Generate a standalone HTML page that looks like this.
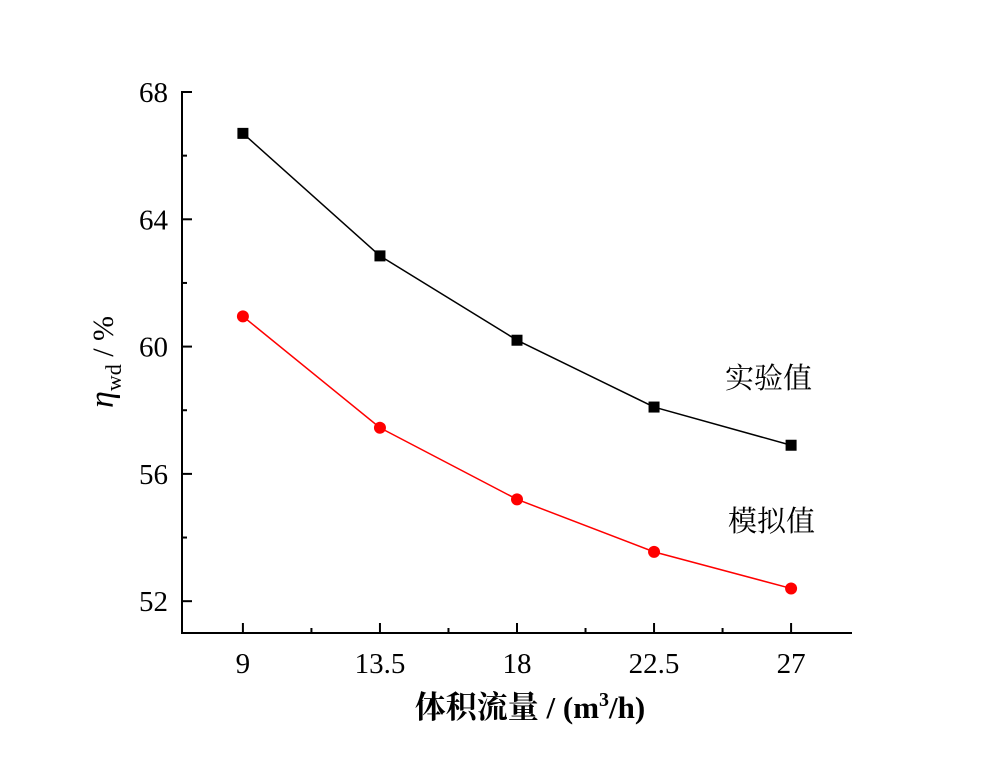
<!DOCTYPE html>
<html><head><meta charset="utf-8"><style>
body{margin:0;background:#fff}
text{font-family:"Liberation Serif","Noto Serif CJK SC",serif;fill:#000}
</style></head><body>
<svg id="chart" width="1000" height="767" xmlns="http://www.w3.org/2000/svg">
<g id="axes"></g>
<g id="marks"></g>
<text transform="translate(113,362) rotate(-90)" text-anchor="middle" font-size="30"><tspan font-style="italic" font-size="34">η</tspan><tspan font-size="22" dy="8">wd</tspan><tspan dy="-8"> / %</tspan></text>
<text x="530" y="718" text-anchor="middle" font-size="31" font-weight="bold">体积流量 / (m<tspan font-size="20" dy="-12">3</tspan><tspan dy="12">/h)</tspan></text>
<text x="725" y="388" font-size="29">实验值</text>
<text x="728" y="531" font-size="29">模拟值</text>
</svg>
<script>
const xCats=[9,13.5,18,22.5,27];
const xTickLabels=["9","13.5","18","22.5","27"];
const yTicks=[52,56,60,64,68];
const experimental=[66.7,62.85,60.2,58.1,56.9];
const simulated=[60.95,57.45,55.2,53.55,52.4];
const X0=182,X1=852,Y0=633,Y1=92;
const xs=v=>X0+(v-7)/(29-7)*(X1-X0);
const ys=v=>Y0-(v-51)/(68-51)*(Y0-Y1);
const NS="http://www.w3.org/2000/svg";
function mk(tag,attrs,parent){const e=document.createElementNS(NS,tag);for(const k in attrs)e.setAttribute(k,attrs[k]);parent.appendChild(e);return e;}
const ax=document.getElementById('axes'),mg=document.getElementById('marks');
let e=mk('path',{d:`M${X0},${Y1-1}V${Y0}H${X1}`,stroke:'#000','stroke-width':2,fill:'none'},ax);


yTicks.forEach((v,i)=>{
  let t=mk('line',{x1:X0,x2:X0+10,y1:ys(v),y2:ys(v),stroke:'#000','stroke-width':2},ax);
  
  
  if(i<yTicks.length-1){let m=mk('line',{x1:X0,x2:X0+5,y1:ys(v+2),y2:ys(v+2),stroke:'#000','stroke-width':2},ax);
  
  }
  let l=mk('text',{x:X0-14,y:ys(v)+10,'text-anchor':'end','font-size':29},ax);l.textContent=String(v);
  
  
});
xCats.forEach((v,i)=>{
  let t=mk('line',{x1:xs(v),x2:xs(v),y1:Y0,y2:Y0-10,stroke:'#000','stroke-width':2},ax);
  
  
  if(i<xCats.length-1){let m=mk('line',{x1:xs(v+2.25),x2:xs(v+2.25),y1:Y0,y2:Y0-5,stroke:'#000','stroke-width':2},ax);
  
  }
  let l=mk('text',{x:xs(v),y:Y0+40,'text-anchor':'middle','font-size':29},ax);l.textContent=xTickLabels[i];
  
  
});
function series(vals,color,shape,name){
  let p=mk('polyline',{points:vals.map((v,i)=>xs(xCats[i])+','+ys(v)).join(' '),fill:'none',stroke:color,'stroke-width':1.5},mg);
  
  
  vals.forEach((v,i)=>{
    let m=shape==='sq'?mk('rect',{x:xs(xCats[i])-5.5,y:ys(v)-5.5,width:11,height:11,fill:color},mg)
      :mk('circle',{cx:xs(xCats[i]),cy:ys(v),r:6,fill:color},mg);
    
    
  });
}
series(experimental,'#000','sq','experimental');
series(simulated,'#f00','c','simulated');
</script>
</body></html>
